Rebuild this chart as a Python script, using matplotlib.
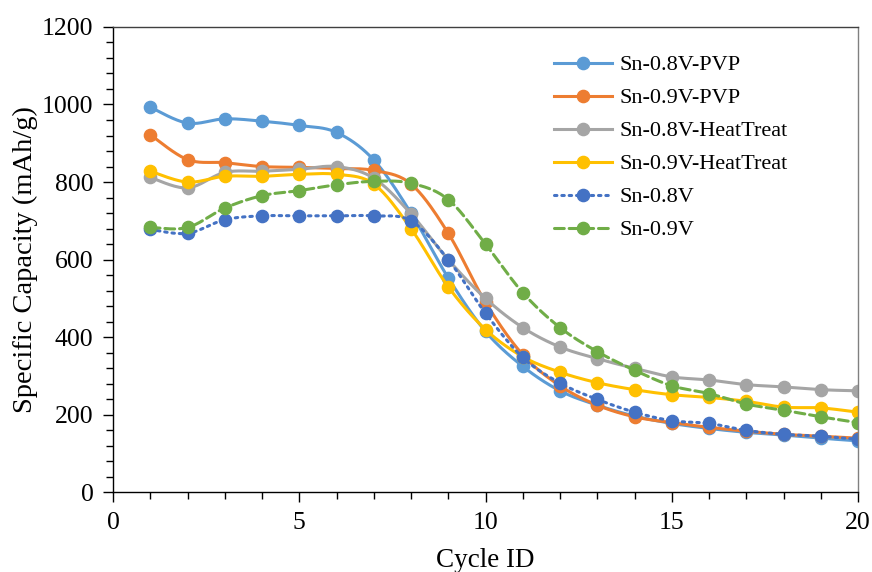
import numpy as np
import matplotlib.pyplot as plt
from matplotlib.lines import Line2D

plt.rcParams['font.family'] = ['Liberation Serif', 'DejaVu Serif']

cycles = np.arange(1, 21)

sn08_pvp = [993, 952, 963, 957, 946, 928, 857, 720, 553, 415,
            325, 262, 225, 197, 178, 165, 155, 148, 140, 133]
sn09_pvp = [922, 858, 850, 840, 838, 835, 830, 795, 668, 490,
            355, 275, 225, 195, 180, 168, 158, 150, 145, 140]
sn08_heat = [812, 785, 825, 828, 833, 840, 810, 718, 600, 500,
             425, 375, 345, 320, 298, 290, 278, 272, 265, 262]
sn09_heat = [828, 800, 815, 815, 820, 820, 795, 680, 530, 420,
             350, 310, 283, 265, 252, 245, 235, 220, 218, 207]
sn08 = [678, 668, 703, 713, 713, 713, 713, 700, 600, 462,
        348, 282, 240, 207, 185, 178, 160, 150, 145, 137]
sn09 = [683, 683, 733, 765, 778, 793, 802, 797, 755, 640,
        515, 425, 363, 315, 275, 255, 228, 212, 195, 180]

labels = ['Sn-0.8V-PVP', 'Sn-0.9V-PVP', 'Sn-0.8V-HeatTreat',
          'Sn-0.9V-HeatTreat', 'Sn-0.8V', 'Sn-0.9V']
series = [sn08_pvp, sn09_pvp, sn08_heat, sn09_heat, sn08, sn09]
colors = ['#5B9BD5', '#ED7D31', '#A5A5A5', '#FFC000', '#4472C4', '#70AD47']
styles = ['-', '-', '-', '-', (0, (0.8, 1.6)), (0, (3.2, 1.6))]


def smooth(x, y, n=20):
    # excel-like smoothing: cubic bezier with catmull-rom control points
    x = np.asarray(x, float)
    y = np.asarray(y, float)
    px = np.concatenate([[x[0]], x, [x[-1]]])
    py = np.concatenate([[y[0]], y, [y[-1]]])
    t = np.linspace(0, 1, n)[:, None]
    xs, ys = [], []
    for i in range(1, len(x)):
        p0 = np.array([px[i], py[i]])
        p3 = np.array([px[i + 1], py[i + 1]])
        c1 = p0 + (np.array([px[i + 1], py[i + 1]]) - np.array([px[i - 1], py[i - 1]])) / 6
        c2 = p3 - (np.array([px[i + 2], py[i + 2]]) - np.array([px[i], py[i]])) / 6
        b = ((1 - t) ** 3) * p0 + 3 * ((1 - t) ** 2) * t * c1 + 3 * (1 - t) * t ** 2 * c2 + t ** 3 * p3
        xs.append(b[:, 0])
        ys.append(b[:, 1])
    return np.concatenate(xs), np.concatenate(ys)


fig = plt.figure(figsize=(8.72, 5.72), dpi=100)
ax = fig.add_axes([0.1296, 0.139, 0.8544, 0.814])

handles = []
for y, c, ls, lab in zip(series, colors, styles, labels):
    sx, sy = smooth(cycles, y)
    ax.plot(sx, sy, color=c, lw=2.2, linestyle=ls, dash_capstyle='round')
    ax.plot(cycles, y, 'o', color=c, ms=8.8, linestyle='none')
    handles.append(Line2D([], [], color=c, lw=2.2, linestyle=ls,
                          dash_capstyle='round', marker='o', ms=8.8))

ax.set_xlim(0, 20)
ax.set_ylim(0, 1200)
ax.set_xticks(np.arange(0, 21, 5))
ax.set_xticks(np.arange(0, 21, 1), minor=True)
ax.set_yticks(np.arange(0, 1201, 200))
ax.set_yticks(np.arange(0, 1201, 40), minor=True)
ax.tick_params(which='both', direction='out', width=1.0, labelsize=18.5, colors='black')
ax.tick_params(which='major', length=7)
ax.tick_params(which='minor', length=5)
ax.tick_params(axis='x', pad=7)
ax.tick_params(axis='y', pad=7)

ax.spines['right'].set_color('#808080')
ax.spines['top'].set_color('#404040')
for s in ax.spines.values():
    s.set_linewidth(1.0)

ax.set_xlabel('Cycle ID', fontsize=19.5, labelpad=10)
ax.set_ylabel('Specific Capacity (mAh/g)', fontsize=20.5, labelpad=3)

ax.legend(handles, labels, loc='upper left', bbox_to_anchor=(0.565, 0.983),
          frameon=False, fontsize=16, handlelength=2.6, labelspacing=0.56,
          handletextpad=0.35)

fig.savefig('out.png', dpi=100)
